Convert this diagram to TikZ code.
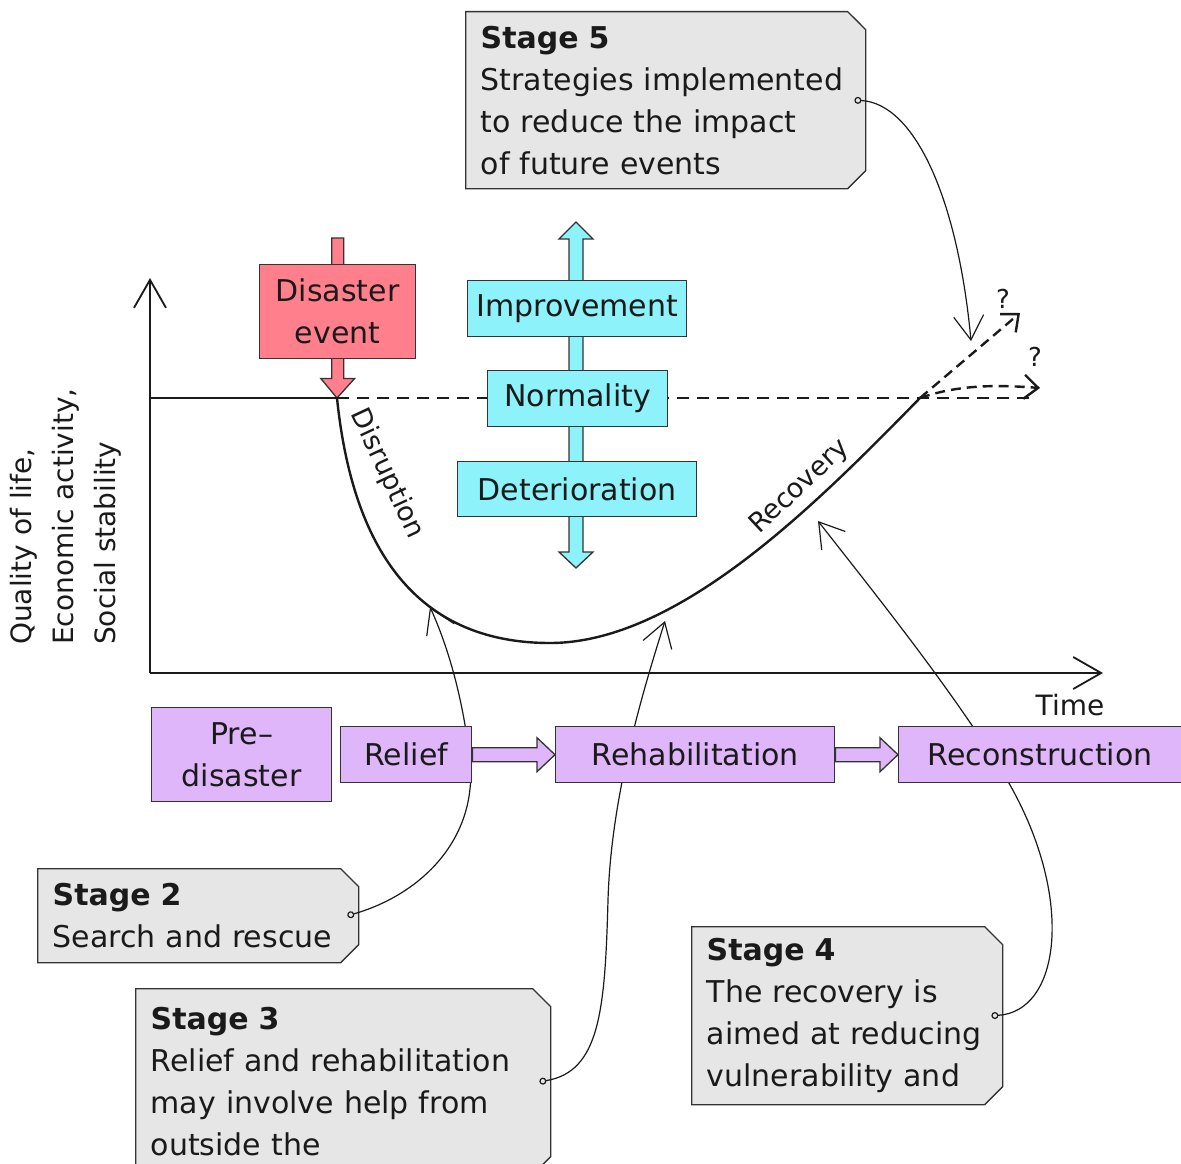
\documentclass[tikz,border=0pt]{standalone}
\usepackage{fontspec}
\setmainfont{DejaVu Sans}
\usetikzlibrary{arrows.meta,shapes.misc,calc}
\pgfdeclarelayer{back}
\pgfdeclarelayer{front}
\pgfsetlayers{back,main,front}
\definecolor{redbox}{HTML}{FF808C}
\definecolor{cyanbox}{HTML}{8EF2FA}
\definecolor{purplebox}{HTML}{DFB6FA}
\definecolor{greybox}{HTML}{E6E6E6}
\definecolor{edge}{HTML}{333333}
\definecolor{ink}{HTML}{1A1A1A}
\begin{document}
\begin{tikzpicture}[x=1pt,y=-1pt,
  txt/.style={font=\fontsize{30}{42}\selectfont, text=ink},
  colbox/.style={draw=edge, line width=1.4pt, inner sep=0pt, anchor=north west, align=center, txt},
  pbox/.style={colbox, fill=purplebox, minimum height=56pt},
  cbox/.style={colbox, fill=cyanbox},
  stagebox/.style={chamfered rectangle, chamfered rectangle corners={north east,south east},
     chamfered rectangle xsep=9pt, chamfered rectangle ysep=9pt,
     draw=edge, fill=greybox, line width=1.4pt, inner xsep=6pt, inner ysep=0pt,
     anchor=north west, align=left, txt},
  conn/.style={draw=ink, line width=1.2pt, {Circle[open,length=7pt,width=7pt]}-{Straight Barb[length=24pt,width=30pt]}},
  axisline/.style={draw=ink, line width=1.8pt, -{Straight Barb[length=28pt,width=32pt]}},
  fut/.style={draw=ink, line width=2.4pt, dash pattern=on 10pt off 6pt, -{Straight Barb[length=14pt,width=24pt]}},
  blockarrow/.style={draw=edge, line width=1.3pt, line join=miter},
  qmark/.style={txt, font=\fontsize{26}{30}\selectfont, inner sep=0pt}
]
\path[use as bounding box] (0,0) rectangle (1181,1164);

% ---- key coordinates
\coordinate (o) at (150,673);
\coordinate (ytop) at (150,278);
\coordinate (xend) at (1103,673);
\coordinate (b0) at (150,398);
\coordinate (c0) at (337,398);
\coordinate (cmin) at (550,643);
\coordinate (c1) at (920,398);
\coordinate (dend) at (1035,398);
\coordinate (f1) at (1020,313);
\coordinate (f2) at (1040,388);
\coordinate (t2) at (430,607);
\coordinate (t3) at (665,621);
\coordinate (t4) at (818,521);
\coordinate (t5) at (971,341);
\coordinate (uptip) at (576,222);
\coordinate (downtip) at (576,568);

% ---- axes
\draw[axisline] (o) -- (ytop);
\draw[axisline] (o) -- (xend);
\node[txt, font=\fontsize{28}{42}\selectfont] (time) at (1070,705) {Time};
\node[rotate=90, anchor=north west, align=left, inner sep=0pt, txt, font=\fontsize{28}{42}\selectfont] (ylab) at (10,645)
  {Quality of life,\\Economic activity,\\Social stability};

% ---- normal level and curve
\draw[ink, line width=2.4pt] (b0) -- (c0);
\draw[ink, line width=1.5pt, dash pattern=on 12pt off 8pt] (c0) -- (dend);
\draw[ink, line width=2.4pt] (c0) .. controls (350,525) and (400,643) .. (cmin)
   .. controls (680,643) and (820,500) .. (c1);
\draw[fut] (c1) -- (f1);
\draw[fut] (c1) .. controls (960,384) and (1000,385) .. (f2);
\node[qmark] (q1) at (1003,299) {?};
\node[qmark] (q2) at (1035,357) {?};

\node[txt, font=\fontsize{27}{32}\selectfont, rotate=-65, inner sep=0pt] (disr) at (387,474) {Disruption};
\node[txt, font=\fontsize{27}{32}\selectfont, rotate=43, inner sep=0pt] (reco) at (800,487) {Recovery};

% ---- disaster event
\node[colbox, fill=redbox, minimum width=156pt, minimum height=94pt] (dis) at (259,264) {Disaster\\event};
\begin{pgfonlayer}{back}
\draw[blockarrow, fill=redbox] ($(dis.north)+(-6,-26)$) -- ($(dis.north)+(6,-26)$) -- ($(dis.south)+(6,19)$)
  -- ($(dis.south)+(17,19)$) -- (c0) -- ($(dis.south)+(-17,19)$) -- ($(dis.south)+(-6,19)$) -- cycle;
% ---- cyan scale arrow
\draw[blockarrow, fill=cyanbox] (uptip) -- ($(uptip)+(17,17)$) -- ($(uptip)+(7,17)$) -- ($(downtip)+(7,-16)$)
  -- ($(downtip)+(17,-16)$) -- (downtip) -- ($(downtip)+(-17,-16)$) -- ($(downtip)+(-7,-16)$)
  -- ($(uptip)+(-7,17)$) -- ($(uptip)+(-17,17)$) -- cycle;
\end{pgfonlayer}
\node[cbox, minimum width=219pt, minimum height=56pt] (imp) at (467,280) {Improvement};
\node[cbox, minimum width=180pt, minimum height=56pt] (norm) at (487,370) {Normality};
\node[cbox, minimum width=239pt, minimum height=55pt] (det) at (457,461) {Deterioration};

% ---- stage boxes (chamfer adds 9pt on each side)
\node[stagebox, minimum width=382pt, minimum height=177pt, text width=370pt] (s5) at (465,11)
  {\textbf{Stage 5}\\Strategies implemented\\to reduce the impact\\of future events};
\node[stagebox, minimum width=303pt, minimum height=94pt, text width=291pt] (s2) at (37,868)
  {\textbf{Stage 2}\\Search and rescue};
\node[stagebox, minimum width=397pt, minimum height=186pt, text width=385pt] (s3) at (135,988)
  {\textbf{Stage 3}\\Relief and rehabilitation\\may involve help from\\outside the};
\node[stagebox, minimum width=293pt, minimum height=178pt, text width=281pt] (s4) at (691,926)
  {\textbf{Stage 4}\\The recovery is\\aimed at reducing\\vulnerability and};

% ---- connectors (under the purple boxes)
\draw[conn] ([xshift=-12pt]s5.east) .. controls (915,103) and (958,200) .. (t5);
\draw[conn] ([xshift=-12pt]s2.east) .. controls (420,895) and (478,840) .. (470,760)
   .. controls (462,690) and (445,640) .. (t2);
\draw[conn] ([xshift=-12pt]s3.east) .. controls (600,1072) and (605,1010) .. (608,900)
   .. controls (611,800) and (640,700) .. (t3);
\draw[conn] ([xshift=-12pt]s4.east) .. controls (1060,1012) and (1075,900) .. (1010,785)
   .. controls (960,700) and (880,600) .. (t4);

% ---- purple phase boxes
\begin{pgfonlayer}{front}
\node[pbox, minimum width=180pt, minimum height=94pt] (pre) at (151,707) {Pre–\\disaster};
\node[pbox, minimum width=131pt] (relief) at (340,726) {Relief};
\node[pbox, minimum width=279pt] (rehab) at (555,726) {Rehabilitation};
\node[pbox, minimum width=283pt] (recon) at (898,726) {Reconstruction};
\draw[blockarrow, fill=purplebox] let \p1=(relief.east), \p2=(rehab.west) in
  (\x1,\y1+7pt) -- (\x2-18pt,\y1+7pt) -- (\x2-18pt,\y1+17pt) -- (\x2,\y1)
  -- (\x2-18pt,\y1-17pt) -- (\x2-18pt,\y1-7pt) -- (\x1,\y1-7pt) -- cycle;
\draw[blockarrow, fill=purplebox] let \p1=(rehab.east), \p2=(recon.west) in
  (\x1,\y1+7pt) -- (\x2-18pt,\y1+7pt) -- (\x2-18pt,\y1+17pt) -- (\x2,\y1)
  -- (\x2-18pt,\y1-17pt) -- (\x2-18pt,\y1-7pt) -- (\x1,\y1-7pt) -- cycle;
\end{pgfonlayer}
\end{tikzpicture}
\end{document}
